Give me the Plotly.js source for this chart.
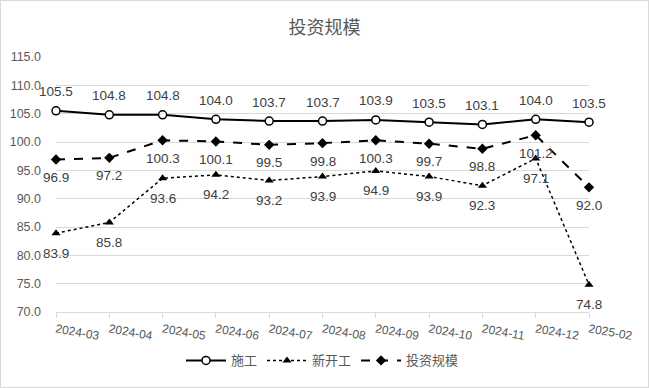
<!DOCTYPE html>
<html>
<head>
<meta charset="utf-8">
<script src="https://cdn.plot.ly/plotly-3.0.1.min.js"></script>
<style>
html,body{margin:0;padding:0;background:#fff;}
#chart{width:647px;height:386px;border:1px solid #d9d9d9;}
</style>
</head>
<body>
<div id="chart"></div>
<script>
const months = ["2024-03","2024-04","2024-05","2024-06","2024-07","2024-08","2024-09","2024-10","2024-11","2024-12","2025-02"];
const construction = [105.5,104.8,104.8,104.0,103.7,103.7,103.9,103.5,103.1,104.0,103.5];
const newStarts = [83.9,85.8,93.6,94.2,93.2,93.9,94.9,93.9,92.3,97.1,74.8];
const investment = [96.9,97.2,100.3,100.1,99.5,99.8,100.3,99.7,98.8,101.2,92.0];
const yTicks = [70,75,80,85,90,95,100,105,110,115];

const labelFont = {family:"Liberation Sans, DejaVu Sans, sans-serif", size:13.5, color:"#404040"};
const fmt = v => v.toFixed(1);

const traces = [
  {name:"施工", x:months, y:construction, type:"scatter", mode:"lines+markers",
   line:{color:"#000", width:2}, marker:{symbol:"circle", size:8, color:"#fff", line:{color:"#000", width:1.5}}, cliponaxis:false},
  {name:"新开工", x:months, y:newStarts, type:"scatter", mode:"lines+markers",
   line:{color:"#000", width:1.5, dash:"dot"}, marker:{symbol:"triangle-up", size:8, color:"#000"}, cliponaxis:false},
  {name:"投资规模", x:months, y:investment, type:"scatter", mode:"lines+markers",
   line:{color:"#000", width:2, dash:"dash"}, marker:{symbol:"diamond", size:8, color:"#000"}, cliponaxis:false}
];

function labels(ys, shift){
  return ys.map((v,i)=>({x:months[i], y:v, xref:"x", yref:"y", text:fmt(v), showarrow:false,
    yshift:shift, font:labelFont}));
}
const annotations = [].concat(labels(construction, 19), labels(newStarts, -20), labels(investment, -18));

const layout = {
  width:647, height:386,
  margin:{l:55, r:59, t:56, b:75},
  paper_bgcolor:"#fff", plot_bgcolor:"#fff",
  font:{family:"Liberation Sans, DejaVu Sans, sans-serif", color:"#595959"},
  title:{text:"投资规模", x:0.5, xanchor:"center", y:0.93, yref:"container", yanchor:"middle",
         font:{family:"Noto Sans CJK SC, sans-serif", size:18, color:"#595959"}},
  xaxis:{type:"category", range:[0,10], showgrid:false, zeroline:false,
         showline:true, linecolor:"#d9d9d9", linewidth:1,
         ticks:"outside", ticklen:5, tickcolor:"#d9d9d9", tickangle:10,
         tickfont:{size:12, color:"#595959", family:"Liberation Sans, DejaVu Sans, sans-serif"}},
  yaxis:{range:[70,115], tickvals:yTicks, ticktext:yTicks.map(fmt), showgrid:true, gridcolor:"#d9d9d9",
         zeroline:false, showline:false, ticks:"", ticklabelstandoff:14,
         tickfont:{size:12.5, color:"#595959"}},
  annotations:annotations,
  showlegend:true,
  legend:{orientation:"h", x:0.5, xanchor:"center", y:-0.19, yanchor:"middle",
          font:{family:"Noto Sans CJK SC, sans-serif", size:13, color:"#595959"}, itemwidth:40}
};

Plotly.newPlot("chart", traces, layout, {displayModeBar:false, staticPlot:true});
</script>
</body>
</html>
